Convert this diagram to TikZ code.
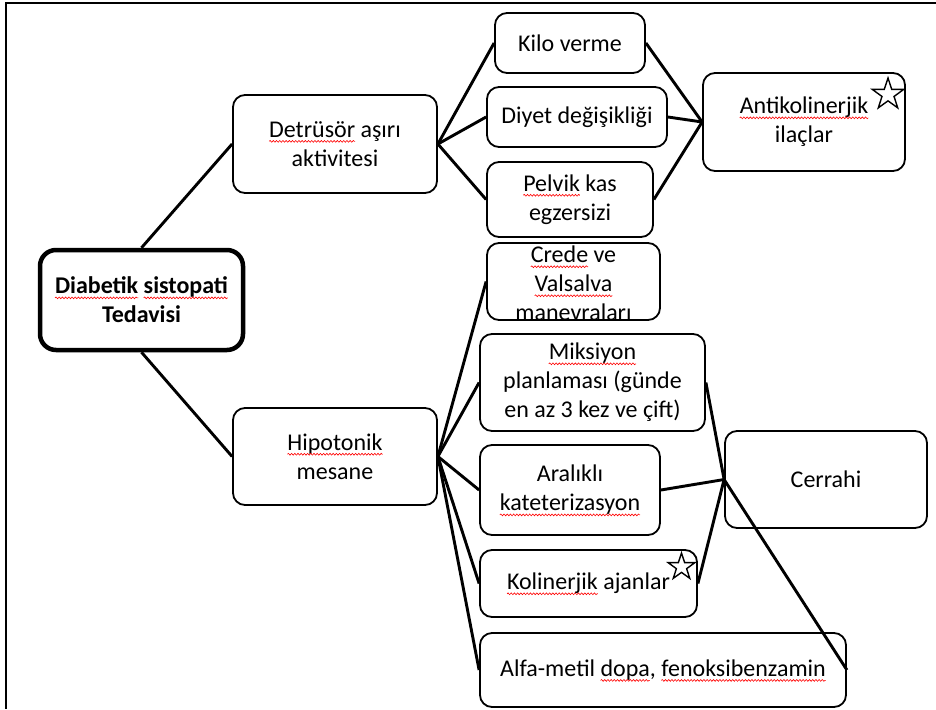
\documentclass[tikz,border=0pt]{standalone}
\usepackage{fontspec}
\setmainfont{Carlito}
\usetikzlibrary{shapes.geometric, decorations.pathmorphing}
\tikzset{
  boxtext/.style = {align=center, font=\fontsize{24}{29}\selectfont},
  box/.style = {draw, boxtext, rounded corners=12pt, line width=1.8pt, inner sep=0pt},
  root/.style = {box, line width=4.5pt, rounded corners=16pt, font=\fontsize{24}{29}\selectfont\bfseries},
  link/.style = {line width=2.9pt},
  starmark/.style = {star, star points=5, star point ratio=2.6, draw, fill=white, line width=1.4pt, inner sep=0pt},
  sqword/.style = {draw=none, fill=none, inner sep=0pt, outer sep=0pt, minimum width=0pt, minimum height=0pt, align=left},
  squiggle/.style = {overlay, red, line width=0.6pt, sharp corners, decorate, decoration={snake, amplitude=0.9pt, segment length=3.2pt}}
}
\newcommand\spl[1]{\tikz[baseline=(w.base), x=1cm, y=1cm]{\node[sqword] (w) {#1};
  \draw[squiggle] ([yshift=-4pt]w.base west) -- ([yshift=-4pt]w.base east);}}
\begin{document}
\begin{tikzpicture}[x=1pt, y=-1pt]
    \useasboundingbox (0,0) rectangle (936,709);
    \draw[line width=2.5pt] (936,3) -- (6,3) -- (6,709);

    \node[root, minimum width=203pt, minimum height=100pt] (diab) at (141.5,300) {\spl{Diabetik} \spl{sistopati}\\Tedavisi};
    \node[box, minimum width=204pt, minimum height=98pt] (det) at (335,144) {\spl{Detrüsör} aşırı\\aktivitesi};
    \node[box, minimum width=204pt, minimum height=97pt] (hip) at (335,456.5) {\spl{Hipotonik}\\mesane};

    \node[box, minimum width=150pt, minimum height=60pt] (kilo) at (570,43) {Kilo verme};
    \node[box, minimum width=180pt, minimum height=60pt] (diyet) at (577,117) {Diyet değişikliği};
    \node[box, minimum width=166pt, minimum height=75pt] (pelvik) at (570,199.5) {\spl{Pelvik} kas\\egzersizi};
    \node[box, minimum width=202pt, minimum height=98pt] (anti) at (804,122) {\spl{Antikolinerjik}\\ilaçlar};

    \node[box, minimum width=173pt, minimum height=77pt,
          path picture={\node[boxtext, draw=none, fill=none, minimum width=0pt, minimum height=0pt]
          at ([yshift=-2pt]path picture bounding box.center)
          {\spl{Crede} ve\\\spl{Valsalva}\\\spl{manevraları}};}] (crede) at (573.5,281.5) {};
    \node[box, minimum width=225pt, minimum height=97pt] (miks) at (592.5,382.5) {\spl{Miksiyon}\\planlaması (günde\\en az 3 kez ve çift)};
    \node[box, minimum width=180pt, minimum height=90pt] (aral) at (570,490) {Aralıklı\\\spl{kateterizasyon}};
    \node[box, minimum width=217pt, minimum height=67pt] (kol) at (588.5,583.5) {\spl{Kolinerjik} ajanlar};
    \node[box, minimum width=366pt, minimum height=74pt] (alfa) at (663,670) {Alfa-metil \spl{dopa}, \spl{fenoksibenzamin}};
    \node[box, minimum width=202pt, minimum height=97pt] (cer) at (826,479.5) {Cerrahi};

    \draw[link] (diab.north) -- (det.west);
    \draw[link] (diab.south) -- (hip.west);
    \foreach \n in {kilo, diyet, pelvik} \draw[link] (det.east) -- (\n.west);
    \foreach \n in {kilo, diyet, pelvik} \draw[link] (\n.east) -- (anti.west);
    \foreach \n in {crede, miks, aral, kol, alfa} \draw[link] (hip.east) -- (\n.west);
    \foreach \n in {miks, aral, kol, alfa} \draw[link] (\n.east) -- (cer.west);

    \node[starmark, minimum size=33pt] (starA) at (888,94.5) {};
    \node[starmark, minimum size=28pt] (starK) at (681.5,567) {};
\end{tikzpicture}
\end{document}
